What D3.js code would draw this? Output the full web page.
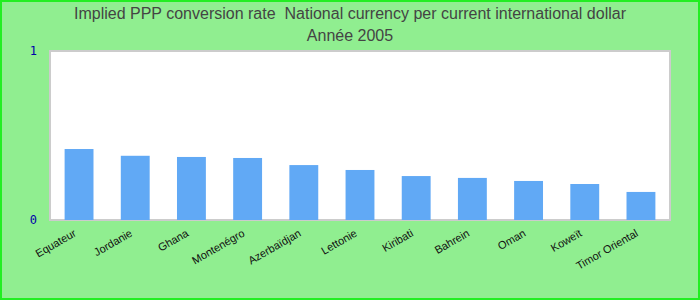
<!DOCTYPE html>
<html>
<head>
<meta charset="utf-8">
<script src="https://cdn.jsdelivr.net/npm/d3@7"></script>
<style>
  body { margin: 0; }
  svg { display: block; font-family: "Liberation Sans", Arial, sans-serif; }
  .title { white-space: pre; }
</style>
</head>
<body>
<div id="vis"></div>
<script>
const WIDTH = 700;
const HEIGHT = 300;
const MARGINS = {left: 50, right: 30, top: 51, bottom: 80};

const VIS_WIDTH = WIDTH - MARGINS.left - MARGINS.right;
const VIS_HEIGHT = HEIGHT - MARGINS.top - MARGINS.bottom;

const categories = ["Equateur", "Jordanie", "Ghana", "Montenégro", "Azerbaïdjan", "Lettonie",
                    "Kiribati", "Bahrein", "Oman", "Koweït", "Timor Oriental"];
const values = [0.42, 0.38, 0.373, 0.367, 0.325, 0.296, 0.26, 0.249, 0.231, 0.213, 0.166];
const yTicks = [0, 1];
const titleLines = ["Implied PPP conversion rate  National currency per current international dollar",
                    "Année 2005"];

const FRAME = d3.select("#vis")
    .append("svg")
        .attr("width", WIDTH)
        .attr("height", HEIGHT);

// background + border
FRAME.append("rect")
    .attr("x", 1).attr("y", 1)
    .attr("width", WIDTH - 2).attr("height", HEIGHT - 2)
    .attr("fill", "#90ee90")
    .attr("stroke", "#22ee22")
    .attr("stroke-width", 2);

FRAME.selectAll(".title")
    .data(titleLines)
    .enter()
    .append("text")
        .attr("class", "title")
        .attr("x", WIDTH / 2)
        .attr("y", (d, i) => 19 + i * 22)
        .attr("text-anchor", "middle")
        .attr("font-size", 16)
        .attr("fill", "#444")
        .text(d => d);

const X_SCALE = d3.scaleBand()
    .domain(categories)
    .range([MARGINS.left, MARGINS.left + VIS_WIDTH])
    .paddingInner(0.486)
    .paddingOuter(0.26);

const Y_SCALE = d3.scaleLinear()
    .domain([0, 1])
    .range([MARGINS.top + VIS_HEIGHT, MARGINS.top]);

// plot area
FRAME.append("rect")
    .attr("x", MARGINS.left)
    .attr("y", MARGINS.top)
    .attr("width", VIS_WIDTH)
    .attr("height", VIS_HEIGHT)
    .attr("fill", "white")
    .attr("stroke", "#cccccc")
    .attr("stroke-width", 2);

FRAME.selectAll(".bar")
    .data(values)
    .enter()
    .append("rect")
        .attr("class", "bar")
        .attr("x", (d, i) => X_SCALE(categories[i]))
        .attr("y", d => Y_SCALE(d))
        .attr("width", X_SCALE.bandwidth())
        .attr("height", d => Y_SCALE(0) - Y_SCALE(d))
        .attr("fill", "#61a9f5");

// y axis labels
const yAxis = FRAME.append("g")
    .attr("transform", `translate(${MARGINS.left - 10},0)`)
    .call(d3.axisLeft(Y_SCALE).tickValues(yTicks).tickFormat(d3.format("d")).tickSize(0));
yAxis.select(".domain").remove();
yAxis.selectAll("text")
    .attr("font-family", "'DejaVu Sans Mono', monospace")
    .attr("font-size", 12)
    .attr("fill", "#0000aa")
    .attr("dy", "0.3em");

// x axis labels
const xAxis = FRAME.append("g")
    .attr("transform", `translate(0,${MARGINS.top + VIS_HEIGHT})`)
    .call(d3.axisBottom(X_SCALE).tickSize(0));
xAxis.select(".domain").remove();
xAxis.selectAll("text")
    .attr("font-family", "'Liberation Sans', Arial, sans-serif")
    .attr("font-size", 11)
    .attr("fill", "#111")
    .attr("text-anchor", "end")
    .attr("transform", "translate(-4,12) rotate(-30)")
    .attr("dy", "0.35em")
    .attr("y", 0);
</script>
</body>
</html>
